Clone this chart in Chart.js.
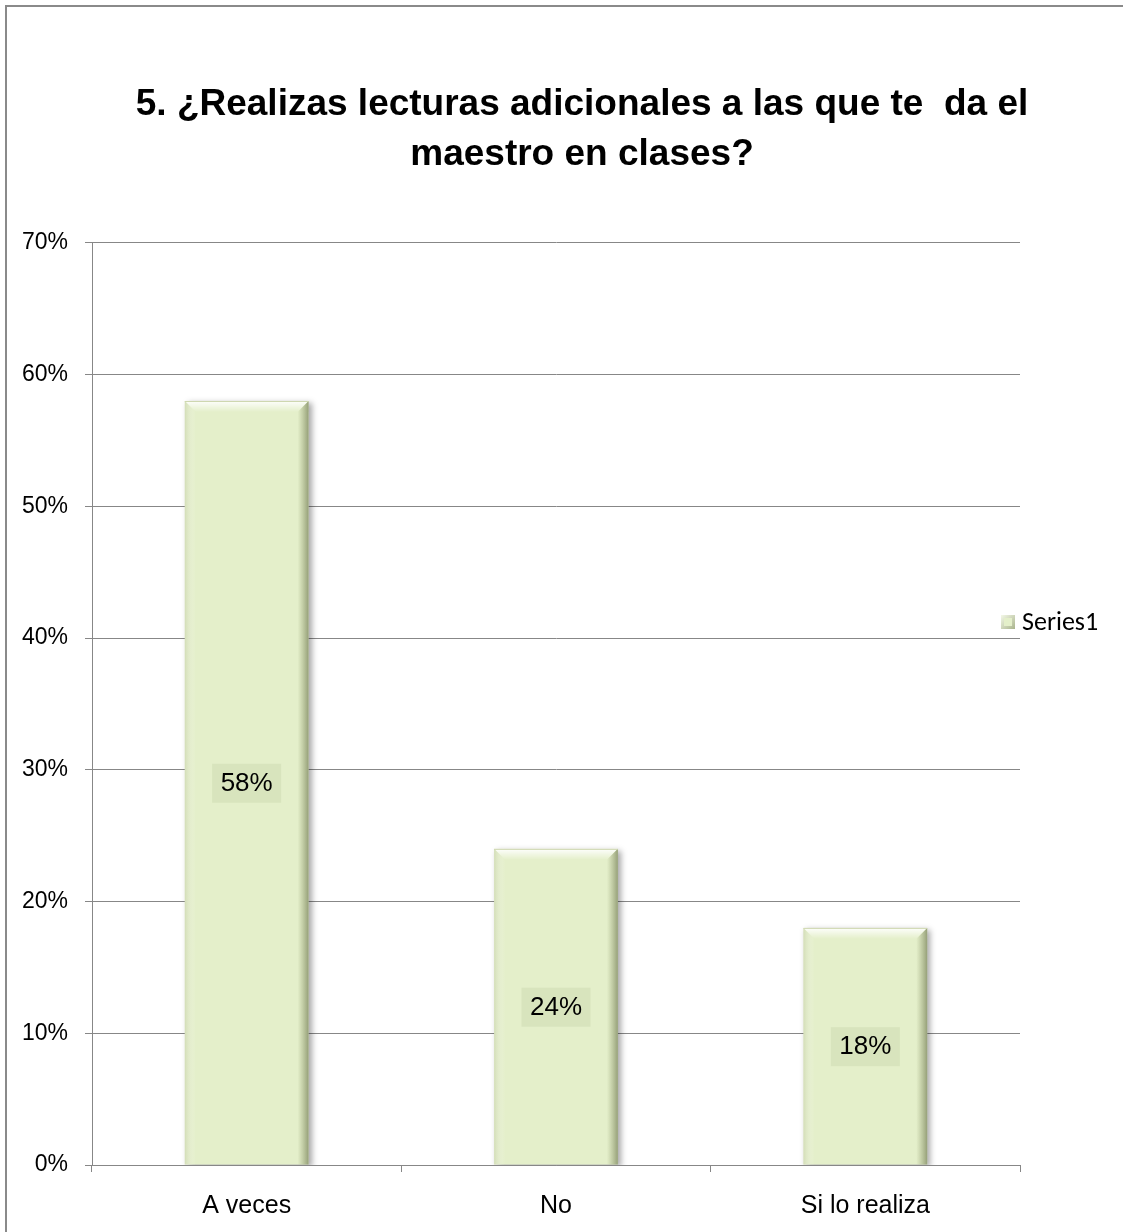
<!DOCTYPE html>
<html>
<head>
<meta charset="utf-8">
<script src="https://cdn.jsdelivr.net/npm/chart.js@4.4.0/dist/chart.umd.min.js"></script>
<style>
  html, body { margin: 0; padding: 0; background: #fff; overflow: hidden; }
  #frame {
    position: absolute; left: 5px; top: 5px;
    width: 1160px; height: 1250px;
    border: 2px solid #8a8a8a;
  }
  #chart { position: absolute; left: 0; top: 0; }
</style>
</head>
<body>
<div id="frame">
  <canvas id="chart" width="1150" height="1240"></canvas>
</div>
<script>
// data
const categories = ["A veces", "No", "Si lo realiza"];
const seriesName = "Series1";
const percentValues = [58, 24, 18];
const titleLines = ["5. ¿Realizas lecturas adicionales a las que te  da el", "maestro en clases?"];

const barFill = "#e4efca";
const gridGray = "#878787";
const arialLike = "'Liberation Sans', Arial, sans-serif";

//bevel look on the bars + shadow
const bevelPlugin = {
  id: "bevel",
  beforeDatasetsDraw(chart) {
    const ctx = chart.ctx;
    ctx.save();
    ctx.shadowColor = "rgba(0,0,0,0.35)";
    ctx.shadowBlur = 6;
    ctx.shadowOffsetX = 3;
    ctx.shadowOffsetY = 2;
  },
  afterDatasetsDraw(chart) {
    const ctx = chart.ctx;
    ctx.restore();
    const meta = chart.getDatasetMeta(0);
    meta.data.forEach(function (bar) {
      const p = bar.getProps(["x", "y", "base", "width"], true);
      const x0 = p.x - p.width / 2;
      const x1 = p.x + p.width / 2;
      const top = p.y;
      const bottom = p.base;
      const b = 11;
      ctx.save();
      // top bevel
      let g = ctx.createLinearGradient(0, top, 0, top + b);
      g.addColorStop(0, "rgba(255,255,255,0.95)");
      g.addColorStop(1, "rgba(255,255,255,0)");
      ctx.fillStyle = g;
      ctx.beginPath();
      ctx.moveTo(x0, top);
      ctx.lineTo(x1, top);
      ctx.lineTo(x1 - b, top + b);
      ctx.lineTo(x0 + b, top + b);
      ctx.closePath();
      ctx.fill();
      // right shade
      g = ctx.createLinearGradient(x1 - b, 0, x1, 0);
      g.addColorStop(0, "rgba(150,160,115,0)");
      g.addColorStop(1, "rgba(130,140,100,0.8)");
      ctx.fillStyle = g;
      ctx.beginPath();
      ctx.moveTo(x1, top);
      ctx.lineTo(x1, bottom);
      ctx.lineTo(x1 - b, bottom);
      ctx.lineTo(x1 - b, top + b);
      ctx.closePath();
      ctx.fill();
      // left light edge
      g = ctx.createLinearGradient(x0, 0, x0 + b, 0);
      g.addColorStop(0, "rgba(200,210,170,0.6)");
      g.addColorStop(1, "rgba(255,255,255,0)");
      ctx.fillStyle = g;
      ctx.beginPath();
      ctx.moveTo(x0, top);
      ctx.lineTo(x0 + b, top + b);
      ctx.lineTo(x0 + b, bottom);
      ctx.lineTo(x0, bottom);
      ctx.closePath();
      ctx.fill();
      // thin top line
      ctx.strokeStyle = "#cdd6ae";
      ctx.lineWidth = 1;
      ctx.beginPath();
      ctx.moveTo(x0, top + 0.5);
      ctx.lineTo(x1, top + 0.5);
      ctx.stroke();
      ctx.restore();
    });
  }
};

//value labels in the middle of the bars
const labelPlugin = {
  id: "valueLabels",
  afterDatasetsDraw(chart) {
    const ctx = chart.ctx;
    const meta = chart.getDatasetMeta(0);
    ctx.save();
    ctx.font = "26px " + arialLike;
    ctx.textAlign = "center";
    ctx.textBaseline = "middle";
    meta.data.forEach(function (bar, i) {
      const p = bar.getProps(["x", "y", "base"], true);
      const cy = (p.y + p.base) / 2;
      const text = percentValues[i] + "%";
      const w = ctx.measureText(text).width + 17;
      ctx.fillStyle = "#d8e4bd";
      ctx.fillRect(p.x - w / 2, cy - 19, w, 39);
      ctx.fillStyle = "#000";
      ctx.fillText(text, p.x, cy + 1);
    });
    ctx.restore();
  }
};

//legend on the right, overlapping the grid end like in the picture
const legendPlugin = {
  id: "sideLegend",
  afterDraw(chart) {
    const ctx = chart.ctx;
    const area = chart.chartArea;
    const x = area.right - 19;
    const cy = chart.height / 2 - 5;
    ctx.save();
    const g = ctx.createLinearGradient(x, cy - 7, x + 14, cy + 7);
    g.addColorStop(0, "#f4f8e8");
    g.addColorStop(1, "#a9b48c");
    ctx.fillStyle = g;
    ctx.fillRect(x, cy - 7, 14, 14);
    ctx.fillStyle = barFill;
    ctx.fillRect(x + 3, cy - 4, 8, 8);
    ctx.font = "26px Carlito, Lato, sans-serif";
    ctx.fillStyle = "#000";
    ctx.textBaseline = "middle";
    ctx.fillText(chart.data.datasets[0].label, x + 21, cy + 1);
    ctx.restore();
  }
};

var ctx = document.getElementById("chart").getContext("2d");
var chart = new Chart(ctx, {
  type: "bar",
  data: {
    labels: categories,
    datasets: [
      {
        label: seriesName,
        data: percentValues.map(function (v) { return v / 100; }),
        backgroundColor: barFill,
        borderWidth: 0,
        barPercentage: 0.4,
        categoryPercentage: 1.0,
        yAxisID: "y",
      },
    ],
  },
  options: {
    responsive: false,
    animation: false,
    devicePixelRatio: 1,
    layout: { padding: 0 },
    plugins: {
      legend: { display: false },
      tooltip: { enabled: false },
      title: {
        display: true,
        text: titleLines,
        color: "#000",
        font: { family: arialLike, size: 37, weight: "bold", lineHeight: 1.35 },
        padding: { top: 73, bottom: 63 },
      },
    },
    scales: {
      x: {
        afterFit: function (scale) { scale.height = 82; },
        grid: {
          display: true,
          drawOnChartArea: false,
          drawTicks: true,
          tickLength: 7,
          color: gridGray,
          offset: true,
        },
        border: { display: true, color: gridGray, width: 1 },
        ticks: {
          color: "#000",
          padding: 19,
          font: { family: arialLike, size: 25 },
        },
      },
      y: {
        min: 0,
        max: 0.7,
        afterFit: function (scale) { scale.width = 85; },
        grid: {
          color: gridGray,
          tickLength: 7,
          drawTicks: true,
        },
        border: { display: true, color: gridGray, width: 1 },
        ticks: {
          stepSize: 0.1,
          color: "#000",
          padding: 17,
          font: { family: arialLike, size: 23 },
          callback: function (v) { return Math.round(v * 100) + "%"; },
        },
      },
      // empty right box that keeps room for the legend
      legendRoom: {
        position: "right",
        afterFit: function (scale) { scale.width = 137; },
        grid: { display: false },
        border: { display: false },
        ticks: { display: false },
      },
    },
  },
  plugins: [bevelPlugin, labelPlugin, legendPlugin],
});
</script>
</body>
</html>
